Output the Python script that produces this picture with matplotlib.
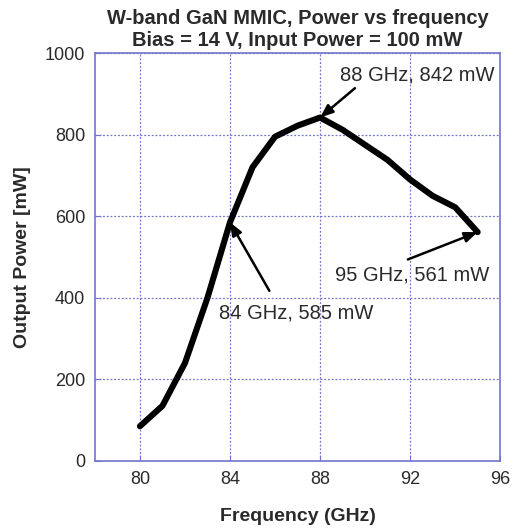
import matplotlib
matplotlib.use("Agg")
import matplotlib.pyplot as plt

# Measured output power of the W-band GaN MMIC across frequency
freq_ghz = [80, 81, 82, 83, 84, 85, 86, 87, 88, 89, 90, 91, 92, 93, 94, 95]
power_mw = [85, 135, 240, 400, 585, 720, 795, 822, 842, 812, 775, 738, 690, 650, 622, 561]

x_ticks = [80, 84, 88, 92, 96]
y_ticks = [0, 200, 400, 600, 800, 1000]

# Highlighted points: (frequency, power)
callouts = [(88, 842), (84, 585), (95, 561)]

plt.rcParams['font.family'] = ['Liberation Sans', 'DejaVu Sans']
text_color = '#2a2a2a'
frame_color = '#7474cc'

fig = plt.figure(figsize=(5.13, 5.31), dpi=100)
ax = fig.add_axes([0.185, 0.132, 0.790, 0.768])

ax.plot(freq_ghz, power_mw, color='black', linewidth=4.4,
        solid_joinstyle='round', solid_capstyle='round', zorder=3)

ax.set_xlim(78, 96)
ax.set_ylim(0, 1000)
ax.set_xticks(x_ticks)
ax.set_yticks(y_ticks)
ax.grid(True, color=frame_color, linestyle=(0, (1.5, 1.5)), linewidth=0.9)
for s in ax.spines.values():
    s.set_color(frame_color)
    s.set_linewidth(1.2)
ax.tick_params(direction='in', color=frame_color, length=4,
               labelsize=13, labelcolor=text_color, pad=7)

ax.set_xlabel('Frequency (GHz)', fontsize=14, fontweight='bold',
              color=text_color, labelpad=15)
ax.set_ylabel('Output Power [mW]', fontsize=14, fontweight='bold',
              color=text_color, labelpad=10)
ax.set_title('W-band GaN MMIC, Power vs frequency\nBias = 14 V, Input Power = 100 mW',
             fontsize=14.5, fontweight='bold', color=text_color,
             linespacing=1.2, pad=5)

# Arrow tail and label centre for each callout point
offsets = {
    (88, 842): ((89.55, 914), (92.3, 946)),
    (84, 585): ((85.75, 417), (86.95, 363)),
    (95, 561): ((91.9, 494), (92.1, 456)),
}
for f, p in callouts:
    (tx, ty), (lx, ly) = offsets[(f, p)]
    ax.annotate('', xy=(f, p), xytext=(tx, ty),
                arrowprops=dict(arrowstyle='-|>,head_length=0.55,head_width=0.22',
                                color='black', lw=1.8,
                                mutation_scale=14, shrinkA=0, shrinkB=0),
                zorder=4)
    ax.text(lx, ly, f'{f} GHz, {p} mW', fontsize=14.5, color=text_color,
            ha='center', va='center', zorder=5)

fig.savefig('out.png', dpi=100)
